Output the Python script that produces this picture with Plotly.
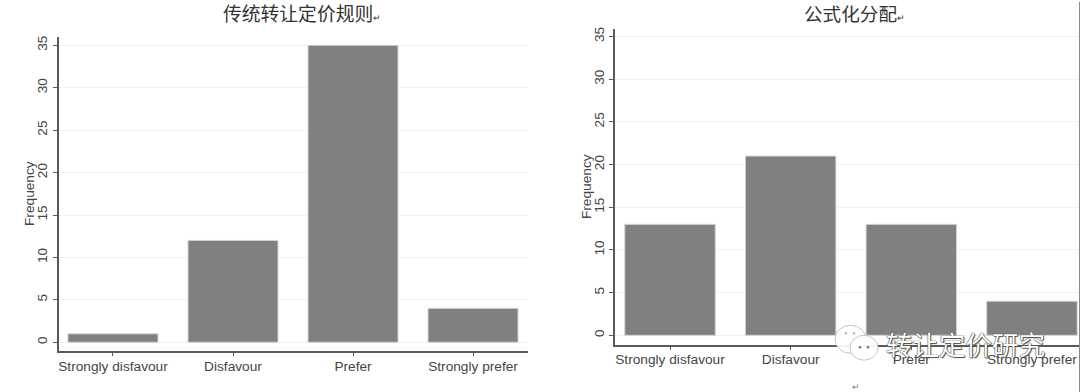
import plotly.graph_objects as go

W, H = 1080, 392
categories = ["Strongly disfavour", "Disfavour", "Prefer", "Strongly prefer"]
traditional_values = [1, 12, 35, 4]
formulary_values = [13, 21, 13, 4]
y_ticks = [0, 5, 10, 15, 20, 25, 30, 35]
title_left = "传统转让定价规则"
title_right = "公式化分配"
return_mark = "↵"
watermark = "转让定价研究"

def px(x): return x / W
def py(y): return 1 - y / H

FONT = "Liberation Sans, Arial, sans-serif"
CJK = "Noto Sans CJK SC, sans-serif"
AXIS = "#5a5a5a"
TEXT = "#454545"
GRID = "#edf4f4"
TICK_SIZE = 13.7

fig = go.Figure()
fig.add_trace(go.Bar(x=categories, y=traditional_values, xaxis="x", yaxis="y", width=0.75,
                     marker=dict(color="#808080", line=dict(color="#d4d4d4", width=1)), showlegend=False))
fig.add_trace(go.Bar(x=categories, y=formulary_values, xaxis="x2", yaxis="y2", width=0.75,
                     marker=dict(color="#808080", line=dict(color="#d4d4d4", width=1)), showlegend=False))

def xaxis(domain, rng, anchor, standoff):
    return dict(domain=[px(domain[0]), px(domain[1])], range=rng, anchor=anchor, type="category",
                categoryorder="array", categoryarray=categories,
                showline=True, linecolor=AXIS, linewidth=1.5, showgrid=False, zeroline=False,
                ticks="outside", ticklen=4, tickcolor=AXIS, tickwidth=1, ticklabelstandoff=standoff,
                tickfont=dict(family=FONT, size=TICK_SIZE, color=TEXT), fixedrange=True)

def yaxis(domain, rng, anchor):
    return dict(domain=[py(domain[1]), py(domain[0])], range=rng, anchor=anchor,
                tickmode="array", tickvals=y_ticks, tickangle=-90,
                showline=True, linecolor=AXIS, linewidth=1.5, showgrid=True, gridcolor=GRID, gridwidth=1,
                zeroline=False, ticks="outside", ticklen=4, tickcolor=AXIS, tickwidth=1,
                tickfont=dict(family=FONT, size=TICK_SIZE, color=TEXT), fixedrange=True)

def ann(text, x, y, size, color=TEXT, family=FONT, angle=0, **font_kw):
    return dict(text=text, x=px(x), y=py(y), xref="paper", yref="paper", showarrow=False,
                textangle=angle, xanchor="center", yanchor="middle",
                font=dict(family=family, size=size, color=color, **font_kw))

shapes = [
    # right-hand edge of the pasted image
    dict(type="line", xref="paper", yref="paper", x0=px(1079.5), x1=px(1079.5), y0=0, y1=1,
         line=dict(color="#8a8a8a", width=1)),
]
# WeChat logo behind the watermark
for x0, y0, x1, y1 in [(835, 325, 866, 353), (850, 335, 878, 360)]:
    shapes.append(dict(type="circle", xref="paper", yref="paper", x0=px(x0), x1=px(x1), y0=py(y1), y1=py(y0),
                       fillcolor="rgba(255,255,255,0.92)", line=dict(color="#c4c4c4", width=1)))
for cx, cy, c in [(846, 333, "#bbbbbb"), (854, 333, "#bbbbbb"), (860, 347, "#777777"), (868, 347, "#777777")]:
    shapes.append(dict(type="circle", xref="paper", yref="paper", x0=px(cx-1.3), x1=px(cx+1.3), y0=py(cy+1.3), y1=py(cy-1.3),
                       fillcolor=c, line=dict(width=0)))

mark = f'<span style="font-size:9px">{return_mark}</span>'
annotations = [
    ann(title_left + mark, 302, 11, 18.8, "#333333", CJK),
    ann(title_right + mark, 854, 11, 18.6, "#333333", CJK),
    ann("Frequency", 29, 193, TICK_SIZE, TEXT, FONT, -90),
    ann("Frequency", 586, 186, TICK_SIZE, TEXT, FONT, -90),
    ann(watermark, 965, 343, 26.5, "#ffffff", CJK,
        shadow="0 0 1px #333, 0 0 1px #333, 1px 1px 1px #555"),
    ann(return_mark, 856, 387, 9, "#777777"),
]

fig.update_layout(
    width=W, height=H, autosize=False, margin=dict(l=0, r=0, t=0, b=0),
    paper_bgcolor="white", plot_bgcolor="white", bargap=0.25,
    xaxis=xaxis((58.5, 528), [-0.454, 3.458], "y", -2),
    yaxis=yaxis((35, 350.5), [-0.995, 36.0], "x"),
    xaxis2=xaxis((615, 1079), [-0.456, 3.39], "y2", -3),
    yaxis2=yaxis((27, 344.5), [-1.105, 35.9], "x2"),
    shapes=shapes, annotations=annotations,
)
fig.write_html("out.html", config=dict(displayModeBar=False),
               post_script="document.body.style.margin='0';document.body.style.overflow='hidden';")
